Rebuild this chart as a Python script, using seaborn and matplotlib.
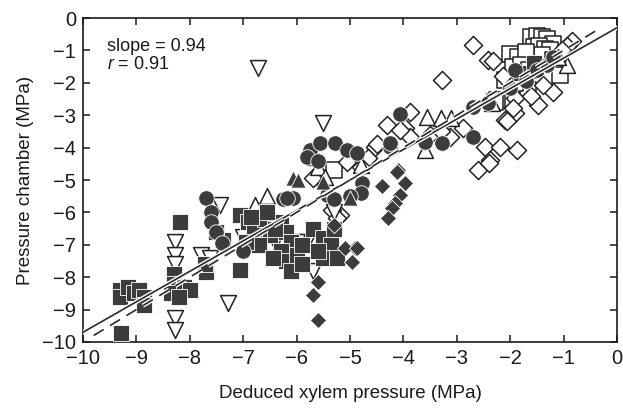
import matplotlib
matplotlib.use("Agg")
import matplotlib.pyplot as plt
import matplotlib.patheffects as pe
import numpy as np
import pandas as pd
import seaborn as sns

# ---------------- data ----------------
fsq_x = [-9.3, -9.3, -9.15, -9.05, -8.95, -8.85, -8.85, -9.29,
         -8.18, -8.3, -8.3, -8.35, -8.1, -8.0, -8.2,
         -7.7, -7.72, -7.38, -7.5, -7.06, -7.06,
         -6.9, -6.8, -6.6, -6.5, -6.3, -6.2, -6.1, -6.3, -6.2, -6.0, -5.9, -6.1, -5.9, -6.7, -6.95, -6.45,
         -5.7, -5.5, -5.35, -5.5, -5.3, -5.6, -5.25, -1.8, -1.55, -6.55, -6.4, -6.85]
fsq_y = [-8.4, -8.6, -8.3, -8.5, -8.4, -8.6, -8.85, -9.72,
         -6.3, -7.9, -8.2, -8.5, -8.3, -8.4, -8.6,
         -7.85, -7.6, -6.85, -6.6, -6.08, -7.78,
         -6.3, -6.5, -6.2, -6.7, -6.3, -6.6, -6.9, -7.2, -7.5, -7.3, -7.0, -7.8, -7.6, -7.0, -6.9, -7.4,
         -6.5, -6.8, -7.0, -7.4, -6.5, -7.2, -7.4, -1.7, -1.4, -6.0, -6.5, -6.15]

ovt_x = [-6.72, -5.5, -8.28, -8.28, -8.28, -8.28, -8.28, -7.79, -7.62, -7.28, -7.43, -7.0,
         -5.7, -5.8, -5.3, -6.0, -8.3, -6.4]
ovt_y = [-1.54, -3.25, -6.9, -7.3, -7.6, -9.25, -9.63, -7.3, -7.4, -8.8, -5.77, -6.75,
         -7.8, -6.9, -6.0, -6.9, -8.0, -6.9]

fci_x = [-7.7, -7.6, -7.6, -7.5, -7.4, -7.0, -6.25, -6.07, -5.43, -5.3, -5.75, -5.56, -5.28,
         -5.06, -4.87, -5.8, -6.18, -4.78, -4.8, -5.0, -4.06, -4.25, -2.7, -2.42, -2.7, -3.28,
         -3.6, -4.25, -5.6, -1.9, -1.5, -1.3, -1.7, -2.0, -1.2]
fci_y = [-5.56, -6.0, -6.3, -6.6, -6.95, -7.2, -5.6, -5.55, -5.46, -5.6, -4.07, -3.86, -3.86,
         -4.07, -4.17, -4.3, -5.56, -5.1, -5.4, -5.5, -2.95, -3.98, -2.74, -2.63, -3.67, -3.86,
         -3.83, -3.86, -4.4, -1.6, -1.6, -1.45, -1.95, -2.15, -1.2]

out_x = [-6.78, -6.55, -3.6, -3.56, -3.3, -3.1, -2.34, -5.6, -5.47, -4.8, -0.94, -5.66, -1.1]
out_y = [-5.77, -5.5, -4.07, -3.05, -3.1, -3.1, -2.63, -4.6, -4.9, -4.55, -1.45, -4.3, -1.2]

ftr_x = [-6.07, -5.97, -5.5, -5.0]
ftr_y = [-4.94, -5.0, -5.06, -5.55]

odi_x = [-2.7, -2.42, -3.28, -4.3, -3.88, -3.97, -4.53, -3.88, -3.13, -2.88, -2.47, -2.19,
         -1.87, -2.38, -2.6, -2.1, -1.9, -1.48, -1.2, -1.39, -1.9, -2.4, -4.5, -4.66, -5.7,
         -5.19, -5.34, -5.06, -5.24, -4.06, -4.8, -0.84, -0.94, -1.03, -2.32, -2.13, -1.95,
         -2.06, -1.6, -3.5, -3.3]
odi_y = [-0.83, -1.3, -1.91, -3.3, -2.9, -3.4, -3.98, -3.67, -3.67, -3.4, -3.98, -3.98,
         -4.07, -4.38, -4.69, -3.15, -2.93, -2.69, -2.28, -2.07, -2.47, -4.48, -3.9, -4.32, -4.94,
         -6.08, -5.93, -4.44, -6.17, -3.46, -4.6, -0.72, -0.87, -1.0, -1.33, -1.8, -2.78,
         -3.18, -2.4, -3.6, -3.5]

fdi_x = [-4.1, -3.97, -4.4, -4.06, -4.16, -4.21, -4.29, -4.9, -5.1, -4.96, -5.6, -5.7, -5.6,
         -4.87, -4.12, -5.3]
fdi_y = [-4.69, -5.1, -5.2, -5.46, -5.7, -5.86, -6.17, -7.1, -7.1, -7.53, -8.15, -8.55, -9.32,
         -7.1, -4.75, -6.4]

osq_x = [-1.6, -1.5, -1.4, -1.3, -1.2, -1.55, -1.45, -1.35, -1.25, -1.6, -1.4, -1.2, -2.0,
         -1.85, -1.7, -1.95, -1.8, -1.65, -1.07, -1.67, -2.25, -2.28, -5.3, -1.9, -2.1]
osq_y = [-0.6, -0.55, -0.6, -0.65, -0.8, -0.9, -0.85, -0.95, -1.0, -1.2, -1.15, -1.3, -1.1,
         -1.2, -1.05, -1.5, -1.45, -1.6, -1.76, -2.22, -2.53, -2.6, -4.7, -2.0, -1.9]

fit_slope = 0.94
fit_intercept = -0.3
fit_r = 0.91
line_x = [-10, 0]
one_x = [-9.8, -0.4]

xticks = list(range(-10, 1))
yticks = list(range(-10, 1))

# ---------------- styling ----------------
sns.set_style("ticks")
plt.rcParams["font.family"] = ["Liberation Sans", "DejaVu Sans"]
plt.rcParams["mathtext.fontset"] = "custom"
plt.rcParams["mathtext.it"] = "Liberation Sans:italic"
plt.rcParams["mathtext.rm"] = "Liberation Sans"

fig = plt.figure(figsize=(6.23, 4.08), dpi=100)
ax = fig.add_axes([0.1332, 0.1618, 0.857, 0.794])

dark = "#3c3c3c"
edge = "#222222"

halo = [pe.Stroke(linewidth=3.2, foreground="white"), pe.Normal()]

def scat(x, y, marker, filled, size):
    df = pd.DataFrame({"x": x, "y": y})
    if filled:
        sns.scatterplot(data=df, x="x", y="y", marker=marker, s=size, color=dark,
                        edgecolor="white", linewidth=0.6, ax=ax, zorder=3)
    else:
        sns.scatterplot(data=df, x="x", y="y", marker=marker, s=size, facecolor="white",
                        edgecolor=edge, linewidth=1.1, ax=ax, zorder=3)

scat(osq_x, osq_y, "s", False, 135)
scat(odi_x, odi_y, "D", False, 85)
scat(out_x, out_y, "^", False, 130)
scat(ovt_x, ovt_y, "v", False, 130)
scat(fsq_x, fsq_y, "s", True, 135)
scat(fci_x, fci_y, "o", True, 125)
scat(ftr_x, ftr_y, "^", True, 120)
scat(fdi_x, fdi_y, "D", True, 68)

fit_y = [fit_slope * v + fit_intercept for v in line_x]
sns.lineplot(x=line_x, y=fit_y, color="#2a2a2a", lw=1.2, ax=ax, zorder=4,
             path_effects=halo)
sns.lineplot(x=one_x, y=one_x, color="#2a2a2a", lw=1.2, ax=ax, zorder=4,
             dashes=False, path_effects=halo, linestyle=(0, (7, 4.5)))

ax.set_xlim(-10, 0)
ax.set_ylim(-10, 0)
ax.set_xticks(xticks)
ax.set_yticks(yticks)
ax.set_xticklabels([("\u2212" + str(abs(t))) if t < 0 else str(t) for t in xticks])
ax.set_yticklabels([("\u2212" + str(abs(t))) if t < 0 else str(t) for t in yticks])
ax.tick_params(direction="in", length=5, width=1.1, top=True, right=True,
               labelsize=14.5, colors="#1a1a1a", pad=5)
for s in ax.spines.values():
    s.set_linewidth(1.2)
    s.set_color("#1a1a1a")
    s.set_visible(True)

ax.set_xlabel("Deduced xylem pressure (MPa)", fontsize=13.5, labelpad=12, color="#1a1a1a")
ax.set_ylabel("Pressure chamber (MPa)", fontsize=13.5, labelpad=6, color="#1a1a1a")

ax.text(-9.55, -0.62, f"slope = {fit_slope:.2f}\n$r$ = {fit_r:.2f}", fontsize=13,
        va="top", ha="left", linespacing=1.1, color="#1a1a1a")

fig.savefig("out.png", dpi=100)
